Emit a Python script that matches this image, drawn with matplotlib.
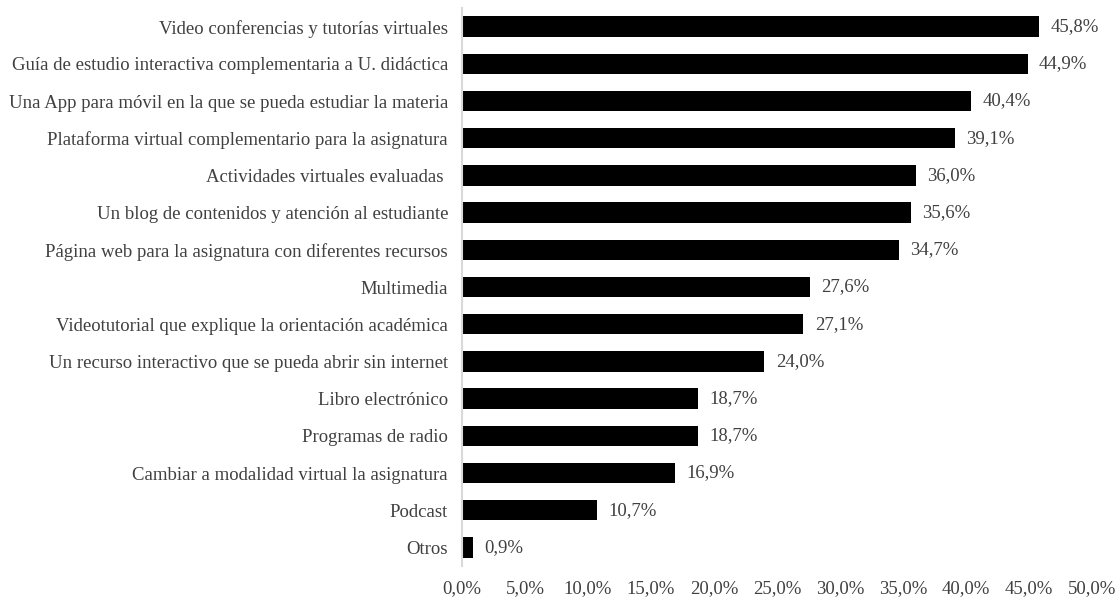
import matplotlib
matplotlib.use("Agg")
import matplotlib.pyplot as plt
from matplotlib.ticker import FuncFormatter, MultipleLocator

categories = [
    "Video conferencias y tutorías virtuales",
    "Guía de estudio interactiva complementaria a U. didáctica",
    "Una App para móvil en la que se pueda estudiar la materia",
    "Plataforma virtual complementario para la asignatura",
    "Actividades virtuales evaluadas ",
    "Un blog de contenidos y atención al estudiante",
    "Página web para la asignatura con diferentes recursos",
    "Multimedia",
    "Videotutorial que explique la orientación académica",
    "Un recurso interactivo que se pueda abrir sin internet",
    "Libro electrónico",
    "Programas de radio",
    "Cambiar a modalidad virtual la asignatura",
    "Podcast",
    "Otros",
]
values = [45.8, 44.9, 40.4, 39.1, 36.0, 35.6, 34.7, 27.6, 27.1, 24.0, 18.7, 18.7, 16.9, 10.7, 0.9]

plt.rcParams['font.family'] = ['Liberation Serif', 'DejaVu Serif']
text_color = '#404040'
fs = 13.5

fig = plt.figure(figsize=(11.17, 6.01), dpi=100)
ax = fig.add_axes([462/1117, 1 - 566/601, (1092-462)/1117, (566-8)/601])

ypos = list(range(len(categories)))[::-1]
ax.barh(ypos, values, height=0.55, color='black')
for y, v in zip(ypos, values):
    ax.text(v + 0.9, y, f"{v:.1f}%".replace('.', ','), va='center', ha='left',
            fontsize=fs, color=text_color)

ax.set_yticks(ypos)
ax.set_yticklabels(categories, fontsize=fs, color=text_color)
ax.set_ylim(-0.5, len(categories) - 0.5)
ax.set_xlim(0, 50)
ax.xaxis.set_major_locator(MultipleLocator(5))
ax.xaxis.set_major_formatter(FuncFormatter(lambda x, p: f"{x:.1f}%".replace('.', ',')))
for lab in ax.get_xticklabels():
    lab.set_fontsize(fs)
    lab.set_color(text_color)
ax.tick_params(axis='both', length=0)
ax.tick_params(axis='x', pad=10)
ax.tick_params(axis='y', pad=10)
for s in ['top', 'right', 'bottom']:
    ax.spines[s].set_visible(False)
ax.spines['left'].set_color('#d9d9d9')
ax.spines['left'].set_linewidth(1.5)

fig.savefig("out.png", dpi=100)
